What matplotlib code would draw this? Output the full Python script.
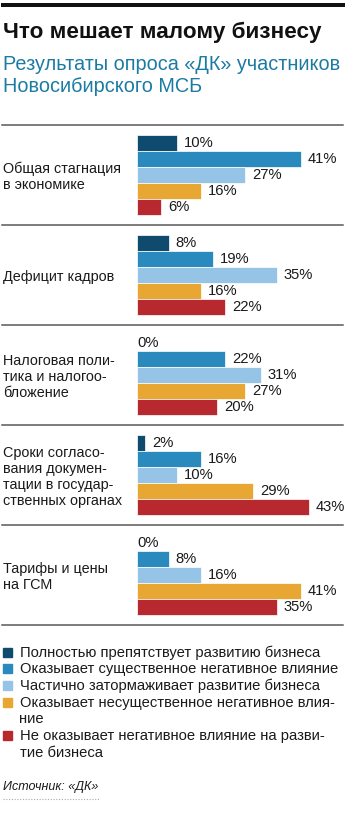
import matplotlib
matplotlib.use('Agg')
import matplotlib.pyplot as plt
from matplotlib.lines import Line2D
from matplotlib.patches import Rectangle

W, H, DPI = 346, 819, 100

title = "Что мешает малому бизнесу"
subtitle = ["Результаты опроса «ДК» участников", "Новосибирского МСБ"]
categories = [["Общая стагнация", "в экономике"],
              ["Дефицит кадров"],
              ["Налоговая поли-", "тика и налогоо-", "бложение"],
              ["Сроки согласо-", "вания докумен-", "тации в государ-", "ственных органах"],
              ["Тарифы и цены", "на ГСМ"]]
legend_labels = [["Полностью препятствует развитию бизнеса"],
                 ["Оказывает существенное негативное влияние"],
                 ["Частично затормаживает развитие бизнеса"],
                 ["Оказывает несущественное негативное влия-", "ние"],
                 ["Не оказывает негативное влияние на разви-", "тие бизнеса"]]
s1 = [10, 8, 0, 2, 0]
s2 = [41, 19, 22, 16, 8]
s3 = [27, 35, 31, 10, 16]
s4 = [16, 16, 27, 29, 41]
s5 = [6, 22, 20, 43, 35]
series = [s1, s2, s3, s4, s5]
colors = ['#0f4b6e', '#2a8abd', '#95c4e6', '#e8a632', '#b8282f']
source = "Источник: «ДК»"

FONT = ['Liberation Sans', 'DejaVu Sans']
PX = 72 / DPI  # points per pixel
TXT = '#1a1a1a'

fig = plt.figure(figsize=(W / DPI, H / DPI), dpi=DPI)
fig.patch.set_facecolor('white')


def fx(x):
    return x / W


def fy(y):
    return 1 - y / H


# layout (pixels from top-left)
BAR_X0 = 137.3
PX_PER_PCT = 4.0
SEP_Y0 = 125
GROUP_H = 100
BAR_H = 16
GROUP_PAD = 10
LINE = 16.3

# top rule
fig.add_artist(Line2D([fx(3), fx(343)], [fy(5), fy(5)], color='#111111', lw=4 * PX))

fig.text(fx(3), fy(38), title, fontsize=16.2, fontweight='bold', family=FONT,
         color='#111111', va='baseline', ha='left')
for i, line in enumerate(subtitle):
    fig.text(fx(3), fy(70 + 22 * i), line, fontsize=14.3, family=FONT,
             color='#1b7ba3', va='baseline', ha='left')

# separators
for g in range(len(categories) + 1):
    y = SEP_Y0 + g * GROUP_H
    fig.add_artist(Line2D([fx(2), fx(343)], [fy(y), fy(y)], color='#555555', lw=1.5 * PX))

# bar axes
ax = fig.add_axes([fx(BAR_X0), 0, 1 - fx(BAR_X0), 1])
ax.set_xlim(0, (W - BAR_X0) / PX_PER_PCT)
ax.set_ylim(H, 0)
ax.axis('off')

for g, cat in enumerate(categories):
    top = SEP_Y0 + g * GROUP_H + GROUP_PAD
    for i, (vals, c) in enumerate(zip(series, colors)):
        yc = top + i * BAR_H + BAR_H / 2
        v = vals[g]
        ax.barh(yc, v, height=BAR_H, color=c, edgecolor='white', linewidth=0.5)
        ax.annotate(f"{v}%", xy=(v, yc), xytext=(4.7 if v > 0 else 0, 0),
                    textcoords='offset points', va='center', ha='left',
                    fontsize=10.6, family=FONT, color=TXT)
    gc = SEP_Y0 + g * GROUP_H + GROUP_H / 2
    n = len(cat)
    for k, line in enumerate(cat):
        yb = gc + 6 + (k - (n - 1) / 2) * LINE
        fig.text(fx(3), fy(yb), line, fontsize=10.4, family=FONT, color=TXT,
                 va='baseline', ha='left')

# legend
yb = 656.7
for lines, c in zip(legend_labels, colors):
    fig.add_artist(Rectangle((fx(3), fy(yb)), 9 / W, 9 / H, color=c,
                             transform=fig.transFigure))
    for line in lines:
        fig.text(fx(19.5), fy(yb), line, fontsize=10.6, family=FONT, color=TXT,
                 va='baseline', ha='left')
        yb += 16.67

# source
fig.text(fx(3), fy(790), source, fontsize=9.0, family=FONT, style='italic',
         color=TXT, va='baseline', ha='left')
fig.add_artist(Line2D([fx(3), fx(100)], [fy(799), fy(799)], color='#aaaaaa',
                      lw=0.8, linestyle=(0, (1, 1.5))))

fig.savefig('out.png', dpi=DPI, facecolor='white')
